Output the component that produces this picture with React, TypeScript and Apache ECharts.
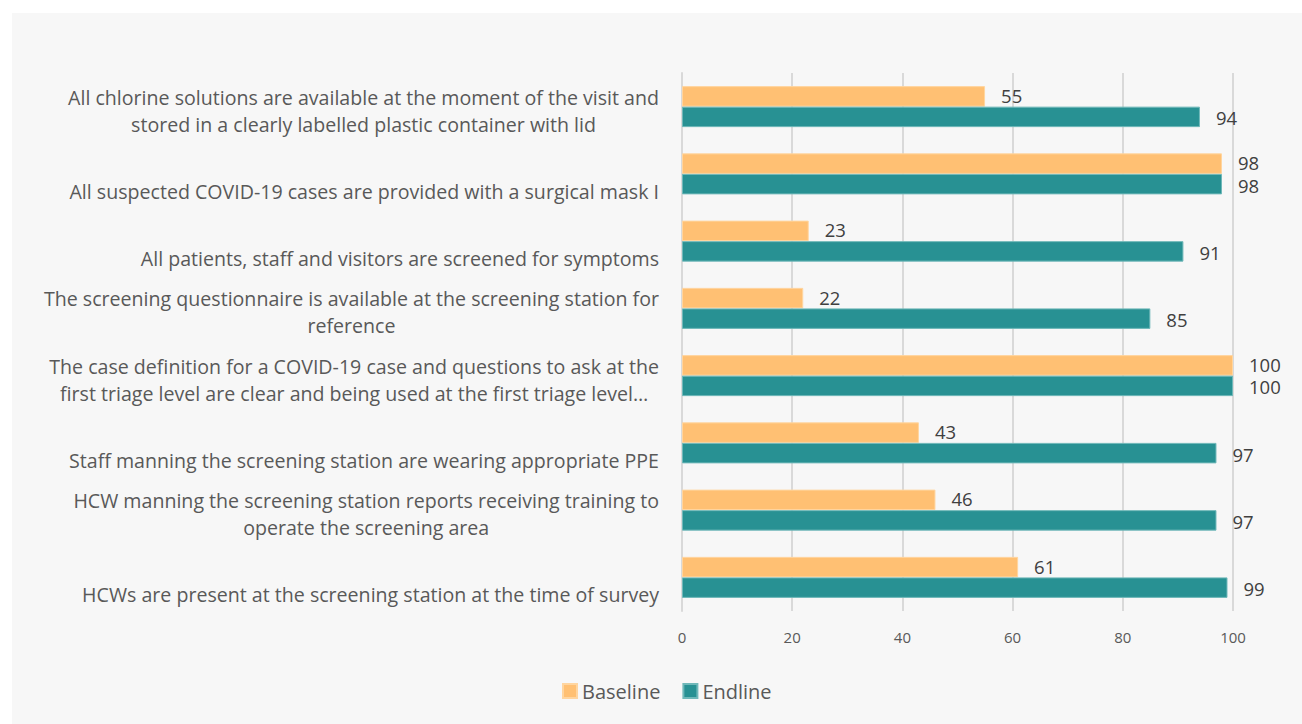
import React, { useEffect, useRef } from "react";
import * as echarts from "echarts";

const categories = [
  "All chlorine solutions are available at the moment of the visit and\nstored in a clearly labelled plastic container with lid",
  "All suspected COVID-19 cases are provided with a surgical mask I",
  "All patients, staff and visitors are screened for symptoms",
  "The screening questionnaire is available at the screening station for\nreference",
  "The case definition for a COVID-19 case and questions to ask at the\nfirst triage level are clear and being used at the first triage level…",
  "Staff manning the screening station are wearing appropriate PPE",
  "HCW manning the screening station reports receiving training to\noperate the screening area",
  "HCWs are present at the screening station at the time of survey",
];
const baseline = [55, 98, 23, 22, 100, 43, 46, 61];
const endline = [94, 98, 91, 85, 100, 97, 97, 99];
const xTicks = { min: 0, max: 100, interval: 20 };

const FONT = "'Open Sans'";
const CAT_SIZE = 19.6;

export default function App() {
  const ref = useRef<HTMLDivElement>(null);
  useEffect(() => {
    document.body.style.margin = "0";
    const chart = echarts.init(ref.current!, null, { renderer: "svg" });
    const labelStyle = (dy: number) => ({
      show: true,
      position: "right",
      distance: 16,
      offset: [0, dy],
      color: "#404040",
      fontSize: 18.5,
      lineHeight: 18,
      fontFamily: FONT,
    });
    chart.setOption({
      animation: false,
      backgroundColor: "#ffffff",
      textStyle: { fontFamily: FONT },
      graphic: [
        {
          type: "rect",
          z: -10,
          silent: true,
          shape: { x: 12, y: 13, width: 1302, height: 724 },
          style: { fill: "#f7f7f7" },
        },
      ],
      grid: { left: 682, right: 69, top: 73, bottom: 113, containLabel: false },
      legend: {
        bottom: 18,
        left: 557,
        itemWidth: 14,
        itemHeight: 14,
        itemGap: 22,
        icon: "rect",
        textStyle: { color: "#595959", fontSize: 20, fontFamily: FONT },
        data: ["Baseline", "Endline"],
      },
      xAxis: {
        type: "value",
        min: xTicks.min,
        max: xTicks.max,
        interval: xTicks.interval,
        axisLine: { show: false },
        axisTick: { show: false },
        splitLine: { show: true, lineStyle: { color: "#d9d9d9", width: 2 } },
        axisLabel: { color: "#595959", fontSize: 15, margin: 18, fontFamily: FONT },
      },
      yAxis: {
        type: "category",
        inverse: true,
        data: categories,
        axisTick: { show: false },
        axisLine: { show: true, lineStyle: { color: "#d9d9d9", width: 2 } },
        axisLabel: {
          color: "#595959",
          fontSize: CAT_SIZE,
          lineHeight: 27,
          margin: 23,
          align: "right",
          fontFamily: FONT,
          padding: [8, 0, 0, 0],
          formatter: (v: string) => {
            const lines = v.split("\n").map((l) => `{c|${l}}`);
            if (lines.length === 1) lines.unshift("");
            return lines.join("\n");
          },
          rich: {
            c: {
              align: "center",
              color: "#595959",
              fontSize: CAT_SIZE,
              lineHeight: 27,
              fontFamily: FONT,
            },
          },
        },
      },
      series: [
        {
          name: "Baseline",
          type: "bar",
          data: baseline,
          barGap: "0%",
          barCategoryGap: "39%",
          itemStyle: { color: "#ffc073", borderColor: "#ffd59f", borderWidth: 1 },
          label: labelStyle(-1),
        },
        {
          name: "Endline",
          type: "bar",
          data: endline,
          barGap: "0%",
          barCategoryGap: "39%",
          itemStyle: { color: "#289193", borderColor: "#6fb8b9", borderWidth: 1 },
          label: labelStyle(1),
        },
      ],
    });
    return () => chart.dispose();
  }, []);
  return <div ref={ref} style={{ width: 1302, height: 724 }} />;
}
